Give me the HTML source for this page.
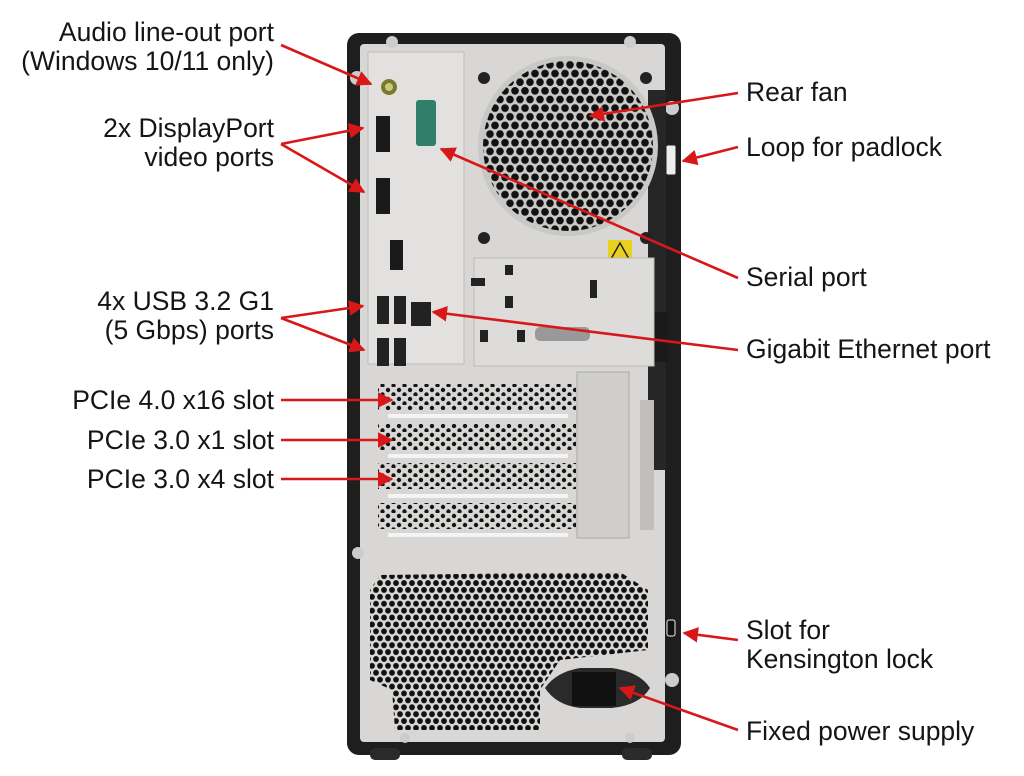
<!DOCTYPE html>
<html><head><meta charset="utf-8"><style>
html,body{margin:0;padding:0;background:#fff;}
svg{display:block;}
text{font-family:"Liberation Sans",Arial,sans-serif;font-size:26.5px;fill:#151515;}
</style></head><body>
<svg width="1024" height="776" viewBox="0 0 1024 776" xmlns="http://www.w3.org/2000/svg">
<defs>
<pattern id="hex" width="8" height="13.8" patternUnits="userSpaceOnUse">
<circle cx="4" cy="3.45" r="2.9" fill="#111"/>
<circle cx="0" cy="10.35" r="2.9" fill="#111"/>
<circle cx="8" cy="10.35" r="2.9" fill="#111"/>
</pattern>
<pattern id="hexs" width="10" height="17.3" patternUnits="userSpaceOnUse">
<circle cx="5" cy="4.3" r="3.8" fill="#111"/>
<circle cx="0" cy="12.95" r="3.8" fill="#111"/>
<circle cx="10" cy="12.95" r="3.8" fill="#111"/>
</pattern>
<pattern id="slot" width="11" height="9" patternUnits="userSpaceOnUse">
<circle cx="3" cy="3" r="2.2" fill="#151515"/>
<circle cx="8.5" cy="7.5" r="2.2" fill="#151515"/>
</pattern>
<marker id="ah" viewBox="0 0 10 10" refX="9" refY="5" markerWidth="6" markerHeight="6" orient="auto">
<path d="M0,0 L10,5 L0,10 z" fill="#d81818"/>
</marker>
</defs>

<rect x="347" y="33" width="334" height="722" rx="12" fill="#1e1e1e"/>
<rect x="360" y="44" width="305" height="698" rx="4" fill="#d8d7d5"/>
<rect x="370" y="748" width="30" height="12" rx="5" fill="#2a2a2a"/>
<rect x="622" y="748" width="30" height="12" rx="5" fill="#2a2a2a"/>
<circle cx="392" cy="42" r="6" fill="#ccc"/><circle cx="630" cy="42" r="6" fill="#ccc"/>
<circle cx="357" cy="78" r="7" fill="#ccc"/><circle cx="672" cy="108" r="7" fill="#ccc"/>
<circle cx="358" cy="553" r="6" fill="#ccc"/><circle cx="672" cy="680" r="7" fill="#ccc"/>
<circle cx="405" cy="738" r="5" fill="#ccc"/><circle cx="630" cy="738" r="5" fill="#ccc"/>
<rect x="648" y="90" width="18" height="380" fill="#262626"/>
<rect x="640" y="312" width="28" height="50" fill="#1a1a1a"/>
<rect x="666" y="145" width="10" height="30" rx="2" fill="#eee" stroke="#222"/>

<rect x="368" y="52" width="96" height="312" fill="#e2e1df" stroke="#bbb"/>
<circle cx="389" cy="87" r="8" fill="#7a7a2a"/><circle cx="389" cy="87" r="4" fill="#c8c87a"/>
<rect x="376" y="116" width="14" height="36" fill="#1a1a1a"/>
<rect x="376" y="178" width="14" height="36" fill="#1a1a1a"/>
<rect x="416" y="100" width="20" height="46" rx="3" fill="#2f7f6a"/>
<rect x="390" y="240" width="13" height="30" fill="#1a1a1a"/>
<rect x="377" y="296" width="12" height="28" fill="#222"/><rect x="394" y="296" width="12" height="28" fill="#222"/>
<rect x="377" y="338" width="12" height="28" fill="#222"/><rect x="394" y="338" width="12" height="28" fill="#222"/>
<rect x="411" y="302" width="20" height="24" fill="#222"/>

<circle cx="568" cy="146" r="90" fill="#c8c8c6"/>
<circle cx="568" cy="146" r="85" fill="url(#hexs)"/>
<circle cx="484" cy="78" r="6" fill="#222"/><circle cx="646" cy="78" r="6" fill="#222"/>
<circle cx="484" cy="238" r="6" fill="#222"/><circle cx="646" cy="238" r="6" fill="#222"/>
<rect x="608" y="240" width="24" height="22" fill="#e8d020"/>
<path d="M620,243 L629,259 L611,259 z" fill="none" stroke="#222" stroke-width="1.5"/>
<rect x="474" y="258" width="180" height="108" fill="#dddcda" stroke="#bbb"/>
<rect x="505" y="265" width="8" height="10" fill="#222"/><rect x="471" y="278" width="14" height="8" fill="#222"/>
<rect x="505" y="296" width="8" height="12" fill="#222"/><rect x="590" y="280" width="7" height="18" fill="#222"/>
<rect x="480" y="330" width="8" height="12" fill="#222"/><rect x="517" y="330" width="8" height="12" fill="#222"/>
<rect x="535" y="327" width="55" height="14" rx="5" fill="#999"/>

<rect x="378" y="384" width="198" height="26" fill="url(#slot)"/>
<rect x="378" y="424" width="198" height="26" fill="url(#slot)"/>
<rect x="378" y="463" width="198" height="26" fill="url(#slot)"/>
<rect x="378" y="503" width="198" height="26" fill="url(#slot)"/>
<rect x="388" y="414" width="180" height="4" fill="#f4f4f4"/>
<rect x="388" y="454" width="180" height="4" fill="#f4f4f4"/>
<rect x="388" y="494" width="180" height="4" fill="#f4f4f4"/>
<rect x="388" y="533" width="180" height="4" fill="#f4f4f4"/>
<rect x="577" y="372" width="52" height="166" fill="#cfcecb" stroke="#aaa"/>
<rect x="640" y="400" width="14" height="130" fill="#c0bfbc"/>

<path d="M380,575 L620,572 L648,590 L648,650 L560,660 L540,690 L540,730 L395,730 L392,690 L370,680 L370,590 z" fill="url(#hex)"/>
<path d="M545,688 Q556,672 580,668 L612,668 Q640,672 650,688 Q640,705 612,708 L580,708 Q556,705 545,688z" fill="#2a2a2a"/>
<rect x="572" y="672" width="44" height="34" fill="#111"/>
<rect x="667" y="620" width="8" height="16" rx="2" fill="#111" stroke="#eee"/>

<g stroke="#d81818" stroke-width="2.6" fill="none" marker-end="url(#ah)">
<line x1="281" y1="45" x2="371" y2="84"/>
<line x1="281" y1="144" x2="363" y2="128"/>
<line x1="281" y1="144" x2="364" y2="192"/>
<line x1="281" y1="318" x2="363" y2="306"/>
<line x1="281" y1="318" x2="364" y2="350"/>
<line x1="281" y1="400" x2="392" y2="400"/>
<line x1="281" y1="440" x2="392" y2="440"/>
<line x1="281" y1="479" x2="392" y2="479"/>
<line x1="738" y1="93" x2="590" y2="116"/>
<line x1="738" y1="147" x2="683" y2="161"/>
<line x1="738" y1="278" x2="441" y2="149"/>
<line x1="738" y1="350" x2="433" y2="312"/>
<line x1="738" y1="640" x2="684" y2="633"/>
<line x1="738" y1="730" x2="620" y2="688"/>
</g>

<g text-anchor="end">
<text x="274" y="41">Audio line-out port</text>
<text x="274" y="70">(Windows 10/11 only)</text>
<text x="274" y="137">2x DisplayPort</text>
<text x="274" y="166">video ports</text>
<text x="274" y="310">4x USB 3.2 G1</text>
<text x="274" y="339">(5 Gbps) ports</text>
<text x="274" y="409">PCIe 4.0 x16 slot</text>
<text x="274" y="449">PCIe 3.0 x1 slot</text>
<text x="274" y="488">PCIe 3.0 x4 slot</text>
</g>
<text x="746" y="101">Rear fan</text>
<text x="746" y="156">Loop for padlock</text>
<text x="746" y="286">Serial port</text>
<text x="746" y="358">Gigabit Ethernet port</text>
<text x="746" y="639">Slot for</text>
<text x="746" y="668">Kensington lock</text>
<text x="746" y="740">Fixed power supply</text>
</svg>
</body></html>
